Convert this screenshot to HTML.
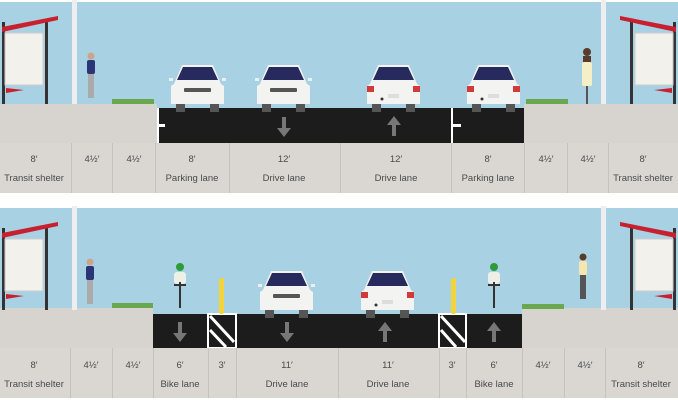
<!DOCTYPE html>
<html><head><meta charset="utf-8"><style>
html,body{margin:0;padding:0;background:#fff;}
svg{display:block}
text{font-family:"Liberation Sans",sans-serif;fill:#4a4a4a;text-anchor:middle;font-size:9.5px}
</style></head><body>
<svg width="678" height="400" viewBox="0 0 678 400" xmlns="http://www.w3.org/2000/svg">
<defs>
  <g id="carF">
    <rect x="4" y="40" width="9" height="8" fill="#555"/>
    <rect x="38" y="40" width="9" height="8" fill="#555"/>
    <path d="M2 20 L10 1 L41 1 L49 20 L52 22 L52 40 L-1 40 L-1 22 Z" fill="#f3f3f1"/>
    <path d="M11 3 L40 3 L46 16 L5 16 Z" fill="#262a5c"/>
    <rect x="12" y="24" width="27" height="4" rx="1" fill="#555"/>
    <rect x="-3" y="14" width="4" height="3" fill="#eee"/>
    <rect x="50" y="14" width="4" height="3" fill="#eee"/>
  </g>
  <g id="carR">
    <rect x="4" y="40" width="9" height="8" fill="#555"/>
    <rect x="38" y="40" width="9" height="8" fill="#555"/>
    <path d="M2 20 L10 1 L41 1 L49 20 L52 22 L52 40 L-1 40 L-1 22 Z" fill="#f3f3f1"/>
    <path d="M11 3 L40 3 L46 16 L5 16 Z" fill="#262a5c"/>
    <rect x="-1" y="22" width="7" height="6" fill="#d23a3a"/>
    <rect x="45" y="22" width="7" height="6" fill="#d23a3a"/>
    <rect x="20" y="30" width="11" height="4" fill="#ddd"/>
    <circle cx="14" cy="35" r="1.5" fill="#333"/>
  </g>
  <g id="shelterL">
    <rect x="2" y="22" width="3" height="82" fill="#333"/>
    <rect x="45" y="22" width="3" height="82" fill="#333"/>
    <rect x="5" y="33" width="38" height="52" fill="#f2f1ec" stroke="#ccc"/>
    <path d="M2 27 L58 16 L58 20 L2 32 Z" fill="#c8202e"/>
    <path d="M6 88 L24 90 L6 93 Z" fill="#c8202e"/>
    <rect x="72" y="0" width="5" height="104" fill="#eeeeee"/>
  </g>
  <g id="person">
    <circle cx="0" cy="4" r="3.5" fill="#c9a68a"/>
    <rect x="-4" y="8" width="8" height="14" rx="2" fill="#2b3575"/>
    <rect x="-3" y="22" width="6" height="24" fill="#aaa"/>
  </g>
  <path id="down" d="M-2 -10 v11 h-5 l7 9 l7 -9 h-5 v-11 z" fill="#777"/>
  <path id="up" d="M-2 10 v-11 h-5 l7 -9 l7 9 h-5 v11 z" fill="#777"/>
</defs>

<!-- TOP PANEL -->
<rect x="0" y="2" width="678" height="106" fill="#a8d2e3"/>
<rect x="0" y="104" width="157" height="40" fill="#d7d4cf"/>
<rect x="524" y="104" width="154" height="40" fill="#d7d4cf"/>
<rect x="157" y="108" width="367" height="35" fill="#1c1c1c"/>
<rect x="451" y="108" width="2" height="35" fill="#fff"/>
<rect x="157" y="108" width="2" height="35" fill="#fff"/>
<rect x="157" y="124" width="8" height="3" fill="#fff"/>
<rect x="453" y="124" width="8" height="3" fill="#fff"/>
<use href="#down" transform="translate(284,127)"/>
<use href="#up" transform="translate(394,126)"/>
<use href="#shelterL"/>
<g transform="translate(678,0) scale(-1,1)"><use href="#shelterL"/></g>
<use href="#person" transform="translate(91,52)"/>
<g transform="translate(587,48)"><circle cx="0" cy="4" r="4" fill="#5a3a2a"/><rect x="-4" y="8" width="8" height="8" fill="#5a3a2a"/><rect x="-5" y="14" width="10" height="24" rx="2" fill="#f5efc8"/><rect x="-1" y="38" width="2" height="18" fill="#555"/></g>
<rect x="112" y="99" width="42" height="5" fill="#6aa84f"/>
<rect x="526" y="99" width="42" height="5" fill="#6aa84f"/>
<use href="#carF" transform="translate(172,64)"/>
<use href="#carF" transform="translate(258,64)"/>
<use href="#carR" transform="translate(368,64)"/>
<use href="#carR" transform="translate(468,64)"/>
<rect x="0" y="143" width="678" height="50" fill="#dad7d3"/>
<g fill="#c6c3bf">
<rect x="71" y="143" width="1" height="50"/><rect x="112" y="143" width="1" height="50"/><rect x="155" y="143" width="1" height="50"/><rect x="229" y="143" width="1" height="50"/><rect x="340" y="143" width="1" height="50"/><rect x="451" y="143" width="1" height="50"/><rect x="524" y="143" width="1" height="50"/><rect x="567" y="143" width="1" height="50"/><rect x="608" y="143" width="1" height="50"/>
</g>
<text x="34" y="162">8′</text><text x="34" y="181">Transit shelter</text>
<text x="92" y="162">4½′</text><text x="134" y="162">4½′</text>
<text x="192" y="162">8′</text><text x="192" y="181">Parking lane</text>
<text x="284" y="162">12′</text><text x="284" y="181">Drive lane</text>
<text x="396" y="162">12′</text><text x="396" y="181">Drive lane</text>
<text x="488" y="162">8′</text><text x="488" y="181">Parking lane</text>
<text x="546" y="162">4½′</text><text x="588" y="162">4½′</text>
<text x="643" y="162">8′</text><text x="643" y="181">Transit shelter</text>

<!-- BOTTOM PANEL -->
<g transform="translate(0,206)">
<rect x="0" y="2" width="678" height="108" fill="#a8d2e3"/>
<rect x="0" y="102" width="153" height="42" fill="#d7d4cf"/>
<rect x="522" y="102" width="156" height="42" fill="#d7d4cf"/>
<rect x="153" y="108" width="369" height="34" fill="#1c1c1c"/>
<g>
<rect x="208" y="108" width="28" height="34" fill="#1c1c1c" stroke="#fff" stroke-width="2"/>
<path d="M210 110 L234 136 M210 124 L226 141" stroke="#fff" stroke-width="3"/>
<rect x="439" y="108" width="27" height="34" fill="#1c1c1c" stroke="#fff" stroke-width="2"/>
<path d="M441 110 L465 136 M441 124 L456 141" stroke="#fff" stroke-width="3"/>
</g>
<use href="#down" transform="translate(180,126)"/>
<use href="#down" transform="translate(287,126)"/>
<use href="#up" transform="translate(385,126)"/>
<use href="#up" transform="translate(494,126)"/>
<use href="#shelterL"/>
<g transform="translate(678,0) scale(-1,1)"><use href="#shelterL"/></g>
<use href="#person" transform="translate(90,52)"/>
<g transform="translate(583,47)"><circle cx="0" cy="4" r="3.5" fill="#5a3a2a"/><rect x="-4" y="8" width="8" height="14" rx="2" fill="#f5e6b0"/><rect x="-3" y="22" width="6" height="24" fill="#555"/></g>
<rect x="112" y="97" width="41" height="5" fill="#6aa84f"/>
<rect x="522" y="98" width="42" height="5" fill="#6aa84f"/>
<g transform="translate(180,58)"><circle cx="0" cy="3" r="4" fill="#2e9a3a"/><rect x="-6" y="8" width="12" height="12" rx="3" fill="#eef0e8"/><rect x="-1" y="18" width="2" height="26" fill="#333"/><rect x="-6" y="20" width="12" height="2" fill="#333"/></g>
<g transform="translate(494,58)"><circle cx="0" cy="3" r="4" fill="#2e9a3a"/><rect x="-6" y="8" width="12" height="12" rx="3" fill="#eef0e8"/><rect x="-1" y="18" width="2" height="26" fill="#333"/><rect x="-6" y="20" width="12" height="2" fill="#333"/></g>
<rect x="219" y="72" width="5" height="36" rx="2" fill="#f2d43a"/>
<rect x="451" y="72" width="5" height="36" rx="2" fill="#f2d43a"/>
<use href="#carF" transform="translate(261,64)"/>
<use href="#carR" transform="translate(362,64)"/>
<rect x="0" y="142" width="678" height="50" fill="#dad7d3"/>
<g fill="#c6c3bf">
<rect x="70" y="142" width="1" height="50"/><rect x="112" y="142" width="1" height="50"/><rect x="153" y="142" width="1" height="50"/><rect x="208" y="142" width="1" height="50"/><rect x="236" y="142" width="1" height="50"/><rect x="338" y="142" width="1" height="50"/><rect x="439" y="142" width="1" height="50"/><rect x="466" y="142" width="1" height="50"/><rect x="522" y="142" width="1" height="50"/><rect x="564" y="142" width="1" height="50"/><rect x="605" y="142" width="1" height="50"/>
</g>
<text x="34" y="162">8′</text><text x="34" y="181">Transit shelter</text>
<text x="91" y="162">4½′</text><text x="133" y="162">4½′</text>
<text x="180" y="162">6′</text><text x="180" y="181">Bike lane</text>
<text x="222" y="162">3′</text>
<text x="287" y="162">11′</text><text x="287" y="181">Drive lane</text>
<text x="388" y="162">11′</text><text x="388" y="181">Drive lane</text>
<text x="452" y="162">3′</text>
<text x="494" y="162">6′</text><text x="494" y="181">Bike lane</text>
<text x="543" y="162">4½′</text><text x="585" y="162">4½′</text>
<text x="641" y="162">8′</text><text x="641" y="181">Transit shelter</text>
</g>
</svg>
</body></html>
